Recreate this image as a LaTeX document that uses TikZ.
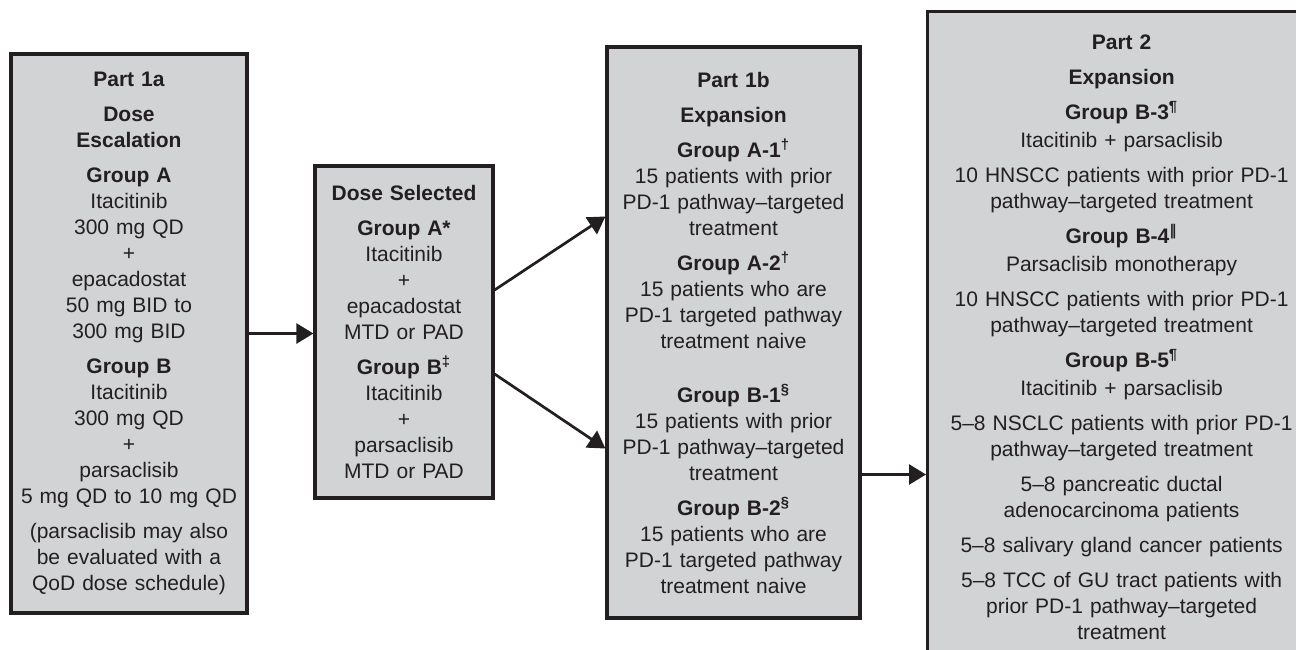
\documentclass[tikz,border=0pt]{standalone}
\usepackage{fontspec}
\setmainfont{Liberation Sans}
\newfontfamily\symfont{DejaVu Sans}
\usetikzlibrary{arrows.meta}
\definecolor{boxfill}{RGB}{209,211,212}
\definecolor{boxline}{RGB}{35,31,32}
\newcommand{\fnmark}[1]{\textsuperscript{#1}}
\newcommand{\gap}{\\[4.5pt]}
\newcommand{\sgap}{\\[1pt]}

\begin{document}
\begin{tikzpicture}[x=0.5pt,y=-0.5pt,
  partbox/.style={draw=boxline,fill=boxfill,line width=1.6pt,align=center,
    inner xsep=4pt,inner ysep=0pt,text=boxline,
    font=\fontsize{10.5}{13}\selectfont},
  flow/.style={draw=boxline,line width=1.35pt,-{Triangle[length=8.5pt,width=10pt]}}]

\useasboundingbox (0,0) rectangle (1296,649);

% Part 1a
\node[partbox,minimum width=118pt,minimum height=279.5pt,text width=110pt]
  (part1a) at (129,333.5) {%
  \textbf{Part 1a}\gap
  \textbf{Dose}\\
  \textbf{Escalation}\gap
  \textbf{Group A}\\
  Itacitinib\\
  300 mg QD\\
  +\\
  epacadostat\\
  50 mg BID to\\
  300 mg BID\gap
  \textbf{Group B}\\
  Itacitinib\\
  300 mg QD\\
  +\\
  parsaclisib\\
  5 mg QD to 10 mg QD\gap
  (parsaclisib may also\\
  be evaluated with a\\
  QoD dose schedule)};

% dose selected
\node[partbox,minimum width=89pt,minimum height=166pt,text width=81pt]
  (dosesel) at (404,332) {%
  \textbf{Dose Selected}\gap
  \textbf{Group A*}\\
  Itacitinib\\
  +\\
  epacadostat\\
  MTD or PAD\gap
  \textbf{Group B\fnmark{‡}}\\
  Itacitinib\\
  +\\
  parsaclisib\\
  MTD or PAD};

% Part 1b
\node[partbox,minimum width=126.5pt,minimum height=285.5pt,text width=118.5pt]
  (part1b) at (733.5,332.5) {%
  \textbf{Part 1b}\gap
  \textbf{Expansion}\gap
  \textbf{Group A-1\fnmark{†}}\\
  15 patients with prior\\
  PD-1 pathway–targeted\\
  treatment\gap
  \textbf{Group A-2\fnmark{†}}\\
  15 patients who are\\
  PD-1 targeted pathway\\
  treatment naive\\[14pt]
  \textbf{Group B-1\fnmark{§}}\\
  15 patients with prior\\
  PD-1 pathway–targeted\\
  treatment\gap
  \textbf{Group B-2\fnmark{§}}\\
  15 patients who are\\
  PD-1 targeted pathway\\
  treatment naive};

% Part 2
\node[partbox,anchor=north west,minimum width=194pt,text width=186pt,inner ysep=11.5pt]
  (part2) at (926,10) {%
  \textbf{Part 2}\gap
  \textbf{Expansion}\gap
  \textbf{Group B-3\fnmark{¶}}\sgap
  Itacitinib + parsaclisib\gap
  10 HNSCC patients with prior PD-1\\
  pathway–targeted treatment\gap
  \textbf{Group B-4\fnmark{\symfont ‖}}\sgap
  Parsaclisib monotherapy\gap
  10 HNSCC patients with prior PD-1\\
  pathway–targeted treatment\gap
  \textbf{Group B-5\fnmark{¶}}\sgap
  Itacitinib + parsaclisib\gap
  5–8 NSCLC patients with prior PD-1\\
  pathway–targeted treatment\gap
  5–8 pancreatic ductal\\
  adenocarcinoma patients\gap
  5–8 salivary gland cancer patients\gap
  5–8 TCC of GU tract patients with\\
  prior PD-1 pathway–targeted\\
  treatment};

% arrows
\draw[flow] (part1a.east) -- (part1a.east -| dosesel.west);
\draw[flow] ([yshift=21pt]dosesel.east) -- ([yshift=58pt]part1b.west);
\draw[flow] ([yshift=-21pt]dosesel.east) -- ([yshift=-58pt]part1b.west);
\coordinate (c3) at ([yshift=-71pt]part1b.east);
\draw[flow] (c3) -- (c3 -| part2.west);

\end{tikzpicture}
\end{document}
